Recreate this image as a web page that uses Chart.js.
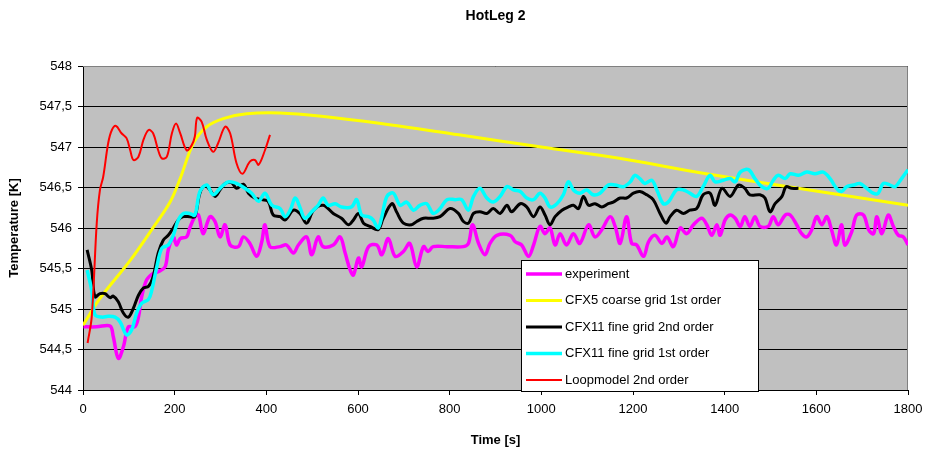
<!DOCTYPE html>
<html>
<head>
<meta charset="utf-8">
<script src="https://cdn.jsdelivr.net/npm/chart.js@4.4.0/dist/chart.umd.min.js"></script>
<style>
  body { margin: 0; background: #fff; }
  #wrap { width: 926px; height: 455px; }
</style>
</head>
<body>
<div id="wrap"><canvas id="hotLegChart" width="926" height="455"></canvas></div>
<script>
// Series values as [time s, temperature K]
const experimentData = [[1,544.78],[30,544.78],[59,544.79],[66,544.66],[77,544.39],[88,544.53],[99,544.78],[113,544.78],[121,544.90],[128,545.15],[139,545.36],[153,545.44],[164,545.46],[179,545.52],[186,545.73],[197,545.89],[204,545.79],[212,545.87],[226,545.89],[233,546.0],[244,546.14],[252,546.16],[262,545.93],[277,546.14],[288,546.08],[299,545.89],[310,546.04],[321,545.79],[339,545.77],[350,545.89],[364,545.81],[379,545.65],[390,545.83],[397,546.04],[408,545.77],[430,545.77],[444,545.79],[459,545.69],[470,545.79],[488,545.89],[499,545.67],[513,545.89],[524,545.77],[546,545.79],[561,545.89],[572,545.69],[583,545.48],[590,545.42],[601,545.63],[608,545.52],[623,545.77],[641,545.79],[652,545.67],[666,545.87],[681,545.65],[699,545.71],[713,545.81],[728,545.52],[743,545.77],[753,545.71],[764,545.77],[794,545.77],[830,545.77],[841,545.81],[850,546.04],[863,545.81],[877,545.67],[888,545.81],[903,545.91],[932,545.91],[943,545.83],[957,545.79],[972,545.65],[983,545.79],[997,546.02],[1008,545.93],[1019,546.0],[1030,545.79],[1041,545.93],[1055,545.79],[1070,545.93],[1084,545.81],[1103,546.04],[1117,545.89],[1132,545.98],[1150,546.14],[1161,546.02],[1172,545.81],[1186,546.14],[1197,545.81],[1208,545.79],[1223,545.65],[1234,545.83],[1248,545.91],[1263,545.81],[1274,545.89],[1288,545.77],[1303,546.0],[1317,545.93],[1332,546.04],[1350,546.12],[1361,546.04],[1372,545.91],[1383,546.04],[1390,545.91],[1401,546.10],[1412,546.16],[1423,546.12],[1434,546.02],[1444,546.14],[1455,546.02],[1466,546.14],[1477,546.02],[1495,546.02],[1506,546.14],[1517,546.04],[1532,546.16],[1543,546.16],[1557,546.04],[1568,545.93],[1579,545.89],[1590,545.98],[1601,546.14],[1612,546.04],[1623,546.14],[1633,545.98],[1644,545.79],[1655,546.04],[1662,545.79],[1677,545.95],[1688,546.16],[1703,546.16],[1714,545.98],[1725,545.93],[1732,546.14],[1743,545.93],[1757,546.16],[1768,546.02],[1779,545.91],[1790,545.89],[1800,545.79]];

const cfx5CoarseData = [[0,544.80],[37,545.13],[103,545.60],[150,545.98],[190,546.32],[212,546.61],[241,547.05],[270,547.25],[306,547.35],[357,547.41],[430,547.42],[520,547.38],[650,547.29],[820,547.15],[1000,547.00],[1170,546.86],[1350,546.68],[1560,546.49],[1800,546.28]];

const cfx11Fine2ndData = [[9,545.73],[19,545.48],[26,545.15],[37,545.19],[48,545.19],[59,545.14],[66,545.16],[77,545.09],[88,544.95],[99,544.90],[110,545.01],[121,545.17],[132,545.26],[143,545.28],[153,545.40],[164,545.69],[175,545.85],[186,545.91],[197,546.0],[208,546.10],[219,546.14],[233,546.14],[244,546.14],[255,546.43],[266,546.52],[277,546.47],[288,546.39],[299,546.47],[310,546.55],[324,546.56],[335,546.49],[350,546.54],[361,546.43],[375,546.37],[390,546.35],[404,546.33],[415,546.16],[430,546.14],[441,546.10],[459,546.22],[473,546.18],[488,546.06],[503,546.22],[524,546.28],[546,546.18],[564,546.12],[579,546.04],[590,546.10],[601,546.18],[612,546.06],[626,546.02],[644,545.98],[655,546.12],[674,546.30],[684,546.20],[699,546.06],[717,546.04],[728,546.08],[743,546.12],[761,546.12],[779,546.14],[801,546.24],[819,546.18],[830,546.08],[841,546.06],[852,546.18],[866,546.20],[881,546.18],[895,546.24],[910,546.18],[925,546.28],[935,546.20],[954,546.30],[968,546.26],[983,546.14],[997,546.26],[1008,546.16],[1019,546.04],[1030,546.14],[1045,546.22],[1059,546.26],[1070,546.28],[1081,546.24],[1092,546.39],[1103,546.28],[1117,546.30],[1132,546.26],[1146,546.30],[1157,546.32],[1172,546.37],[1186,546.37],[1201,546.43],[1215,546.45],[1230,546.41],[1244,546.35],[1259,546.18],[1272,546.06],[1281,546.14],[1295,546.22],[1310,546.18],[1324,546.22],[1339,546.24],[1353,546.41],[1368,546.43],[1379,546.28],[1394,546.49],[1412,546.39],[1430,546.53],[1444,546.49],[1455,546.41],[1477,546.41],[1488,546.37],[1499,546.20],[1510,546.30],[1525,546.39],[1534,546.51],[1546,546.49],[1561,546.49]];

const cfx11Fine1stData = [[9,545.48],[19,545.23],[26,544.93],[41,544.90],[55,544.91],[70,544.90],[81,544.84],[95,544.68],[106,544.74],[117,544.95],[128,545.07],[143,545.12],[150,545.23],[161,545.52],[172,545.75],[186,545.79],[197,545.91],[208,546.10],[219,546.18],[233,546.18],[244,546.16],[255,546.45],[270,546.53],[284,546.41],[299,546.49],[317,546.57],[335,546.55],[353,546.49],[368,546.43],[383,546.33],[397,546.43],[412,546.28],[430,546.24],[441,546.14],[452,546.22],[463,546.37],[473,546.26],[484,546.12],[499,546.20],[513,546.28],[524,546.37],[535,546.28],[550,546.30],[564,546.26],[586,546.26],[597,546.35],[608,546.16],[623,546.14],[633,546.10],[644,546.00],[652,546.14],[663,546.39],[677,546.43],[692,546.28],[706,546.32],[721,546.22],[735,546.28],[750,546.30],[764,546.18],[779,546.24],[794,546.35],[812,546.35],[826,546.35],[841,546.22],[852,546.39],[866,546.49],[881,546.37],[895,546.32],[910,546.39],[925,546.51],[939,546.47],[954,546.45],[968,546.37],[983,546.35],[997,546.43],[1008,546.37],[1019,546.26],[1034,546.30],[1048,546.41],[1059,546.57],[1070,546.47],[1084,546.43],[1099,546.47],[1113,546.41],[1128,546.43],[1146,546.53],[1161,546.53],[1179,546.51],[1194,546.57],[1204,546.65],[1215,546.61],[1226,546.55],[1241,546.59],[1252,546.47],[1266,546.30],[1277,546.32],[1295,546.47],[1310,546.47],[1324,546.43],[1339,546.39],[1353,546.51],[1368,546.65],[1379,546.57],[1397,546.59],[1412,546.61],[1423,546.57],[1434,546.69],[1452,546.72],[1466,546.61],[1481,546.51],[1495,546.49],[1506,546.59],[1517,546.65],[1532,546.61],[1543,546.67],[1561,546.65],[1579,546.69],[1597,546.67],[1615,546.69],[1630,546.61],[1644,546.49],[1655,546.45],[1666,546.51],[1681,546.53],[1695,546.55],[1710,546.49],[1724,546.43],[1735,546.43],[1746,546.55],[1761,546.53],[1772,546.51],[1786,546.61],[1800,546.72]];

const loopmodelData = [[10,544.58],[19,544.90],[30,546.06],[37,546.47],[44,546.63],[55,547.05],[63,547.21],[72,547.26],[84,547.17],[95,547.11],[103,546.96],[110,546.84],[121,546.88],[132,547.09],[143,547.21],[153,547.17],[164,546.96],[172,546.86],[183,546.88],[194,547.17],[203,547.29],[212,547.17],[226,546.96],[237,547.02],[244,547.13],[249,547.36],[259,547.31],[270,547.09],[284,546.94],[295,547.05],[310,547.25],[321,547.17],[335,546.80],[348,546.67],[364,546.82],[375,546.84],[383,546.78],[397,546.96],[408,547.15]];

const seriesLabels = ['experiment', 'CFX5 coarse grid 1st order', 'CFX11 fine grid 2nd order', 'CFX11 fine grid 1st order', 'Loopmodel 2nd order'];
const seriesColors = ['#FF00FF', '#FFFF00', '#000000', '#00FFFF', '#FF0000'];
const seriesWidths = [3.5, 3, 3, 3.5, 2];
const xTicks = [0, 200, 400, 600, 800, 1000, 1200, 1400, 1600, 1800];
const yTicks = [544, 544.5, 545, 545.5, 546, 546.5, 547, 547.5, 548];

const allSeries = [experimentData, cfx5CoarseData, cfx11Fine2ndData, cfx11Fine1stData, loopmodelData];
// lower order is drawn on top, so the last legend entry ends up topmost
const drawOrder = [5, 4, 3, 2, 1];

Chart.defaults.font.family = '"Liberation Sans", Arial, sans-serif';
Chart.defaults.font.size = 13;
Chart.defaults.color = '#000';

// Gray plot area and the gray top/right frame
const plotArea = {
    id: 'plotArea',
    beforeDraw(chart) {
        const { ctx, chartArea: a } = chart;
        ctx.save();
        ctx.fillStyle = '#C0C0C0';
        ctx.fillRect(a.left, a.top, a.right - a.left, a.bottom - a.top);
        ctx.restore();
    },
    beforeDatasetsDraw(chart) {
        const { ctx, chartArea: a } = chart;
        ctx.save();
        ctx.strokeStyle = '#808080';
        ctx.lineWidth = 1;
        ctx.beginPath();
        ctx.moveTo(a.left, a.top + 0.5);
        ctx.lineTo(a.right - 0.5, a.top + 0.5);
        ctx.lineTo(a.right - 0.5, a.bottom);
        ctx.stroke();
        ctx.restore();
    }
};

// Title centred over the plot area
const plotTitle = {
    id: 'plotTitle',
    afterDraw(chart) {
        const { ctx, chartArea: a } = chart;
        ctx.save();
        ctx.font = 'bold 14px "Liberation Sans", Arial, sans-serif';
        ctx.fillStyle = '#000';
        ctx.textAlign = 'center';
        ctx.textBaseline = 'middle';
        ctx.fillText('HotLeg 2', (a.left + a.right) / 2, 16);
        ctx.restore();
    }
};

// Legend box inside the plot, bottom right
const boxLegend = {
    id: 'boxLegend',
    afterDraw(chart) {
        const { ctx } = chart;
        const x = 521, y = 260, w = 238, h = 132;
        ctx.save();
        ctx.fillStyle = '#fff';
        ctx.fillRect(x, y, w, h);
        ctx.strokeStyle = '#000';
        ctx.lineWidth = 1;
        ctx.strokeRect(x + 0.5, y + 0.5, w - 1, h - 1);
        ctx.font = '13px "Liberation Sans", Arial, sans-serif';
        ctx.textBaseline = 'middle';
        ctx.textAlign = 'left';
        seriesLabels.forEach((label, i) => {
            const ly = y + 14 + i * 26.5;
            ctx.strokeStyle = seriesColors[i];
            ctx.lineWidth = seriesWidths[i];
            ctx.beginPath();
            ctx.moveTo(x + 5, ly);
            ctx.lineTo(x + 41, ly);
            ctx.stroke();
            ctx.fillStyle = '#000';
            ctx.fillText(label, x + 44, ly);
        });
        ctx.restore();
    }
};

const ctx = document.getElementById('hotLegChart').getContext('2d');
const hotLegChart = new Chart(ctx, {
    type: 'line',
    data: {
        datasets: allSeries.map((s, i) => ({
            label: seriesLabels[i],
            data: s.map(p => ({ x: p[0], y: p[1] })),
            borderColor: seriesColors[i],
            backgroundColor: seriesColors[i],
            borderWidth: seriesWidths[i],
            pointRadius: 0,
            tension: 0.35,
            fill: false,
            order: drawOrder[i]
        }))
    },
    options: {
        responsive: false,
        animation: false,
        layout: { padding: { top: 66, right: 18, bottom: 0, left: 0 } },
        plugins: {
            legend: { display: false },
            title: { display: false },
            tooltip: { enabled: false }
        },
        scales: {
            x: {
                type: 'linear',
                min: 0,
                max: 1800,
                afterFit: scale => {
                    scale.height = 65;
                    scale.paddingLeft = 0;
                    scale.paddingRight = 0;
                },
                afterBuildTicks: scale => { scale.ticks = xTicks.map(v => ({ value: v })); },
                ticks: { maxRotation: 0, padding: 7, font: { size: 13 }, callback: v => String(v) },
                grid: { drawOnChartArea: false, drawTicks: true, tickLength: 5, color: '#000' },
                border: { color: '#000', width: 1 },
                title: { display: true, text: 'Time [s]', font: { size: 13, weight: 'bold' }, padding: { top: 7, bottom: 7 } }
            },
            y: {
                type: 'linear',
                min: 544,
                max: 548,
                afterFit: scale => {
                    scale.width = 83;
                    scale.paddingTop = 0;
                    scale.paddingBottom = 0;
                },
                afterBuildTicks: scale => { scale.ticks = yTicks.map(v => ({ value: v })); },
                ticks: {
                    padding: 6,
                    font: { size: 13 },
                    callback: v => String(v).replace('.', ',')
                },
                grid: { color: '#000', lineWidth: 1, drawTicks: true, tickLength: 5 },
                border: { color: '#000', width: 1 },
                title: { display: true, text: 'Temperature [K]', font: { size: 13, weight: 'bold' }, padding: { top: 7, bottom: 7 } }
            }
        }
    },
    plugins: [plotArea, plotTitle, boxLegend]
});
</script>
</body>
</html>
